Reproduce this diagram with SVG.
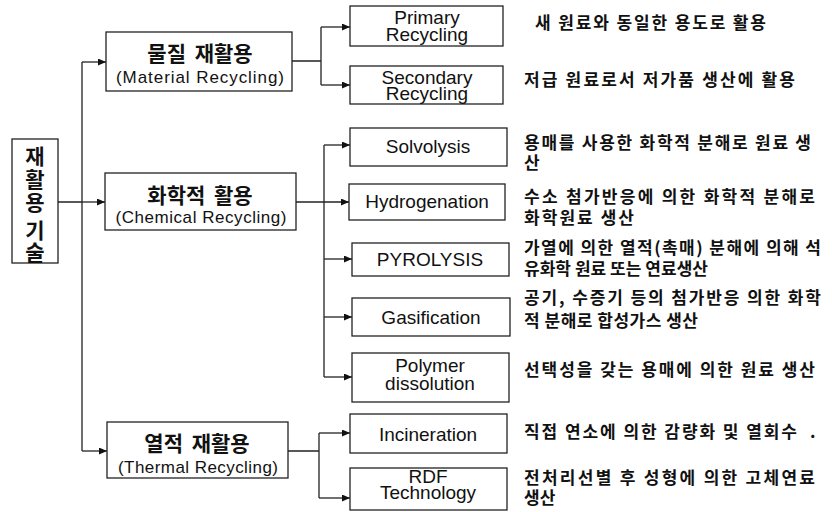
<svg xmlns="http://www.w3.org/2000/svg" width="832" height="512" viewBox="0 0 832 512">
<defs>
<marker id="arr" markerUnits="userSpaceOnUse" markerWidth="9" markerHeight="8" refX="8" refY="3.5" orient="auto">
<path d="M0,0 L8,3.5 L0,7 z" fill="#111"/>
</marker>
<style>
.box{fill:#fff;stroke:#222;stroke-width:1.3}
.ko{font-family:"Noto Sans CJK KR","Noto Sans",sans-serif;fill:#111}
.root{font-size:21px;font-weight:bold;text-anchor:middle}
.l1k{font-size:21px;font-weight:bold;text-anchor:middle;word-spacing:4px}
.l1e{font-family:"Liberation Sans",Arial,sans-serif;font-size:17px;fill:#111;text-anchor:middle}
.l2{font-family:"Liberation Sans",Arial,sans-serif;font-size:19px;fill:#111;text-anchor:middle}
.d{font-size:17px;font-weight:bold}
.c{fill:none;stroke:#222;stroke-width:1.3}
.a{marker-end:url(#arr)}
</style>
</defs>
<rect width="832" height="512" fill="#fff"/>

<g id="connectors">
<path class="c" d="M58,202 H82 M82,62 V451"/>
<path class="c a" d="M82,62 H106"/>
<path class="c a" d="M82,202 H105"/>
<path class="c a" d="M82,451 H107"/>
<path class="c" d="M292,61 H321 M321,27 V85"/>
<path class="c a" d="M321,27 H350"/>
<path class="c a" d="M321,85 H350"/>
<path class="c a" d="M296,202 H349"/>
<path class="c" d="M324,145 V377"/>
<path class="c a" d="M324,145 H350"/>
<path class="c a" d="M324,259 H352"/>
<path class="c a" d="M324,317 H352"/>
<path class="c a" d="M324,377 H352"/>
<path class="c" d="M288,451 H319 M319,433 V498"/>
<path class="c a" d="M319,433 H350"/>
<path class="c a" d="M319,498 H350"/>
</g>

<g id="root">
<rect class="box" x="12" y="139" width="46" height="124"/>
<text class="ko root"><tspan x="35" y="164">재</tspan><tspan x="35" y="187">활</tspan><tspan x="35" y="210">용</tspan><tspan x="35" y="238">기</tspan><tspan x="35" y="260">술</tspan></text>
</g>

<g id="material">
<rect class="box" x="106" y="32" width="186" height="59"/>
<text class="ko l1k" x="200" y="61">물질 재활용</text>
<text class="l1e" x="200" y="83" textLength="168">(Material Recycling)</text>
</g>
<g id="chemical">
<rect class="box" x="105" y="173" width="191" height="57"/>
<text class="ko l1k" x="200" y="203">화학적 활용</text>
<text class="l1e" x="201" y="223" textLength="171">(Chemical Recycling)</text>
</g>
<g id="thermal">
<rect class="box" x="107" y="422" width="181" height="56"/>
<text class="ko l1k" x="197" y="451">열적 재활용</text>
<text class="l1e" x="198" y="473" textLength="160">(Thermal Recycling)</text>
</g>

<g id="primary">
<rect class="box" x="350" y="6" width="153" height="40"/>
<text class="l2"><tspan x="427" y="24">Primary</tspan><tspan x="427" y="41">Recycling</tspan></text>
</g>
<g id="secondary">
<rect class="box" x="350" y="66" width="153" height="38"/>
<text class="l2"><tspan x="427" y="84">Secondary</tspan><tspan x="427" y="100">Recycling</tspan></text>
</g>
<g id="solvolysis">
<rect class="box" x="350" y="128" width="157" height="38"/>
<text class="l2" x="428" y="153">Solvolysis</text>
</g>
<g id="hydrogenation">
<rect class="box" x="349" y="184" width="156" height="36"/>
<text class="l2" x="427" y="208">Hydrogenation</text>
</g>
<g id="pyrolysis">
<rect class="box" x="352" y="243" width="157" height="33"/>
<text class="l2" x="430" y="266">PYROLYSIS</text>
</g>
<g id="gasification">
<rect class="box" x="352" y="298" width="158" height="38"/>
<text class="l2" x="431" y="324">Gasification</text>
</g>
<g id="polymer">
<rect class="box" x="352" y="353" width="157" height="49"/>
<text class="l2"><tspan x="430" y="372">Polymer</tspan><tspan x="430" y="390">dissolution</tspan></text>
</g>
<g id="incineration">
<rect class="box" x="350" y="414" width="157" height="39"/>
<text class="l2" x="428" y="441">Incineration</text>
</g>
<g id="rdf">
<rect class="box" x="350" y="468" width="157" height="42"/>
<text class="l2"><tspan x="428" y="483">RDF</tspan><tspan x="428" y="499">Technology</tspan></text>
</g>

<g id="descriptions">
<text class="ko d" x="535" y="29" textLength="231">새 원료와 동일한 용도로 활용</text>
<text class="ko d" x="524" y="86" textLength="271">저급 원료로서 저가품 생산에 활용</text>
<text class="ko d"><tspan x="524" y="149" textLength="287">용매를 사용한 화학적 분해로 원료 생</tspan><tspan x="524" y="169">산</tspan></text>
<text class="ko d"><tspan x="524" y="203" textLength="291">수소 첨가반응에 의한 화학적 분해로</tspan><tspan x="524" y="224" textLength="110">화학원료 생산</tspan></text>
<text class="ko d"><tspan x="524" y="254" textLength="297">가열에 의한 열적(촉매) 분해에 의해 석</tspan><tspan x="524" y="275" textLength="184">유화학 원료 또는 연료생산</tspan></text>
<text class="ko d"><tspan x="524" y="304" textLength="297">공기, 수증기 등의 첨가반응 의한 화학</tspan><tspan x="524" y="327" textLength="174">적 분해로 합성가스 생산</tspan></text>
<text class="ko d" x="524" y="376" textLength="291">선택성을 갖는 용매에 의한 원료 생산</text>
<text class="ko d" x="524" y="438"><tspan textLength="273">직접 연소에 의한 감량화 및 열회수</tspan><tspan x="810">.</tspan></text>
<text class="ko d"><tspan x="524" y="484" textLength="291">전처리선별 후 성형에 의한 고체연료</tspan><tspan x="524" y="504">생산</tspan></text>
</g>
</svg>
